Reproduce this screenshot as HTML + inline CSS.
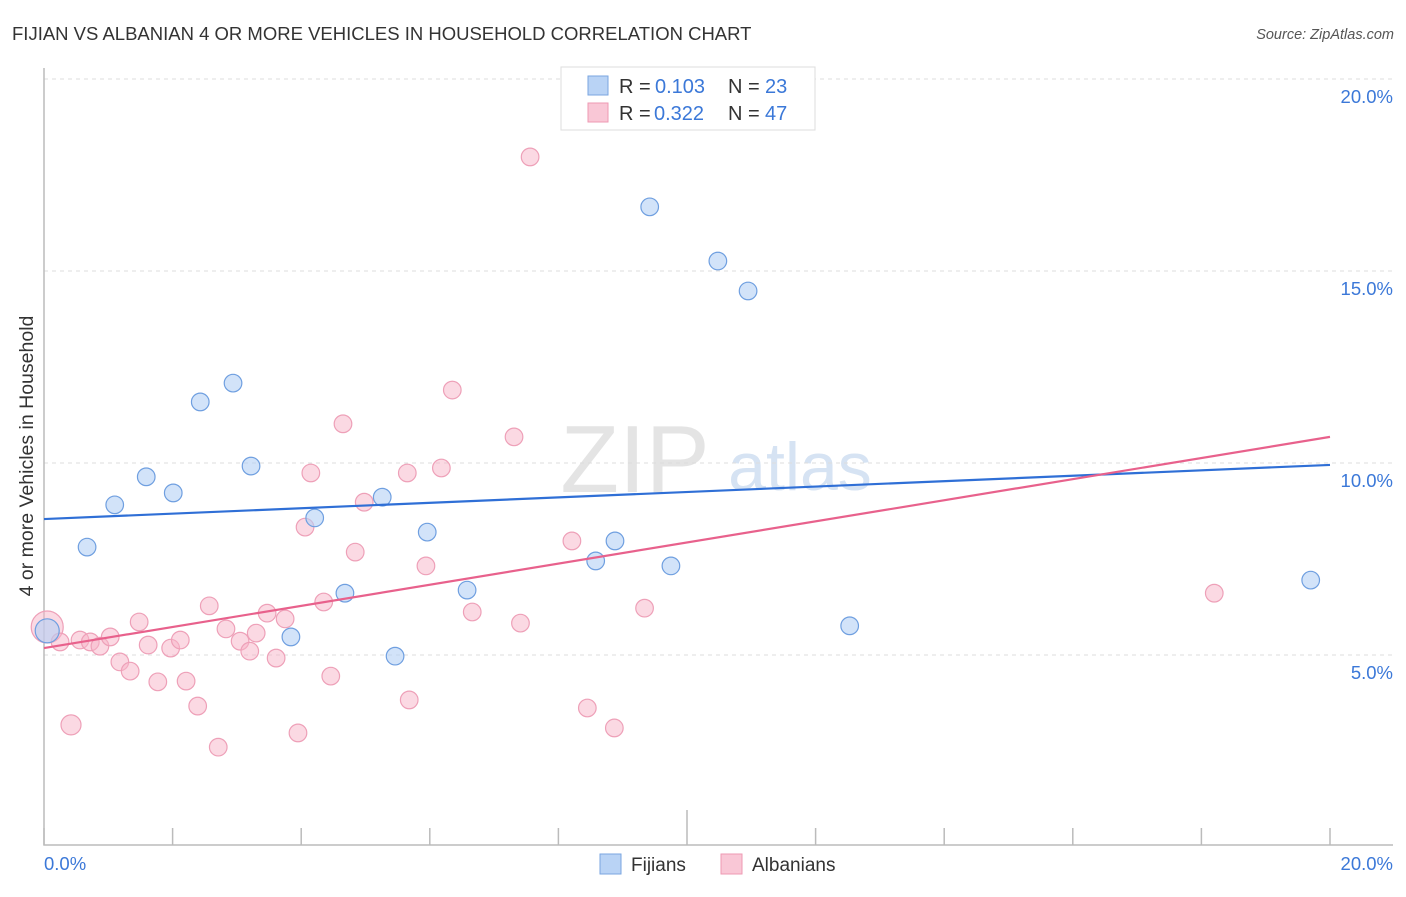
<!DOCTYPE html>
<html><head><meta charset="utf-8"><style>
body{margin:0;background:#fff;font-family:"Liberation Sans",sans-serif}
svg text{font-family:"Liberation Sans",sans-serif}
</style></head><body>
<svg id="c" width="1406" height="892">
<text x="12" y="40" font-size="18.5" fill="#333">FIJIAN VS ALBANIAN 4 OR MORE VEHICLES IN HOUSEHOLD CORRELATION CHART</text>
<text x="1394" y="39" font-size="14.5" fill="#555" font-style="italic" text-anchor="end">Source: ZipAtlas.com</text>
<text x="33" y="456" font-size="19.5" fill="#333" text-anchor="middle" transform="rotate(-90 33 456)">4 or more Vehicles in Household</text>
<g><text x="635" y="492" font-size="96" fill="#e4e4e4" font-family="Liberation Serif" text-anchor="middle">ZIP</text><text x="800" y="490" font-size="68" fill="#d6e3f3" text-anchor="middle">atlas</text></g>
<g id="grid"></g><g id="marks"></g>
<g>
<rect x="561" y="67" width="254" height="63" fill="#fff" stroke="#ddd"/>
<rect x="588" y="76" width="20" height="19" fill="#b9d3f5" stroke="#7aa6e0"/>
<rect x="588" y="103" width="20" height="19" fill="#f9c7d6" stroke="#ee9ab3"/>
<text y="93" font-size="20" fill="#333"><tspan x="619">R =</tspan><tspan x="655" fill="#3b78d8">0.103</tspan><tspan x="728">N =</tspan><tspan x="765" fill="#3b78d8">23</tspan></text>
<text y="120" font-size="20" fill="#333"><tspan x="619">R =</tspan><tspan x="654" fill="#3b78d8">0.322</tspan><tspan x="728">N =</tspan><tspan x="765" fill="#3b78d8">47</tspan></text>
</g>
<g>
<rect x="600" y="854" width="21" height="20" fill="#b9d3f5" stroke="#7aa6e0"/>
<text x="631" y="871" font-size="19" fill="#333">Fijians</text>
<rect x="721" y="854" width="21" height="20" fill="#f9c7d6" stroke="#ee9ab3"/>
<text x="752" y="871" font-size="19" fill="#333">Albanians</text>
</g>
</svg>
<script>
const fijX=[0.05,0.67,1.10,1.59,2.01,2.43,2.94,3.22,3.84,4.21,4.68,5.26,5.46,5.96,6.58,8.58,8.88,9.42,9.75,10.48,10.95,12.53,19.70];
const fijY=[5.63,7.81,8.91,9.64,9.22,11.59,12.08,9.92,5.47,8.57,6.61,9.11,4.97,8.20,6.69,7.45,7.97,16.67,7.32,15.26,14.48,5.76,6.95];
const albX=[0.05,0.25,0.42,0.56,0.72,0.87,1.03,1.18,1.34,1.48,1.62,1.77,1.97,2.12,2.21,2.39,2.57,2.71,2.83,3.05,3.20,3.30,3.47,3.61,3.75,3.95,4.06,4.15,4.35,4.46,4.65,4.84,4.98,5.65,5.68,5.94,6.18,6.35,6.66,7.31,7.41,7.56,8.21,8.45,8.87,9.34,18.20];
const albY=[5.73,5.34,3.18,5.39,5.34,5.23,5.47,4.82,4.58,5.86,5.26,4.30,5.18,5.39,4.32,3.67,6.28,2.60,5.68,5.36,5.10,5.57,6.09,4.92,5.94,2.97,8.33,9.74,6.38,4.45,11.02,7.68,8.98,9.74,3.83,7.32,9.87,11.90,6.12,10.68,5.83,17.97,7.97,3.62,3.10,6.22,6.61];
const fijTrend=[8.54,9.95];
const albTrend=[5.18,10.68];
const yTicks=[5,10,15,20];
const xLabels=["0.0%","20.0%"];
const NS="http://www.w3.org/2000/svg";
const sx=v=>44+v/20*1286, sy=v=>847-v*38.4;
function mk(p,t,a){const e=document.createElementNS(NS,t);for(const k in a)e.setAttribute(k,a[k]);p.appendChild(e);return e;}
const grid=document.getElementById('grid'),marks=document.getElementById('marks');
yTicks.forEach(v=>{
 const l=mk(grid,'line',{x1:44,x2:1393,y1:sy(v),y2:sy(v),stroke:'#ddd','stroke-dasharray':'4,4'});
 
 
 const t=mk(grid,'text',{x:1393,y:sy(v)+24,'font-size':18.5,fill:'#3b78d8','text-anchor':'end'});t.textContent=v.toFixed(1)+'%';
 
 
});
const ax=mk(grid,'path',{d:'M44 68V845H1393',fill:'none',stroke:'#bbb','stroke-width':1.5});


for(let i=0;i<=10;i++){const x=sx(i*2);const tk=mk(grid,'line',{x1:x,x2:x,y1:i==5?810:828,y2:845,stroke:'#bbb','stroke-width':1.5});
 
 }
const xl0=mk(grid,'text',{x:44,y:870,'font-size':18.5,fill:'#3b78d8'});xl0.textContent=xLabels[0];


const xl1=mk(grid,'text',{x:1393,y:870,'font-size':18.5,fill:'#3b78d8','text-anchor':'end'});xl1.textContent=xLabels[1];


albX.forEach((x,i)=>{const r=i==0?16:(i==2?10:8.8);
 const c=mk(marks,'circle',{cx:sx(x),cy:sy(albY[i]),r:r,fill:'rgba(247,180,200,0.5)',stroke:'#eea0b8','stroke-width':1.2});
 
 });
fijX.forEach((x,i)=>{const c=mk(marks,'circle',{cx:sx(x),cy:sy(fijY[i]),r:i==0?12:8.8,fill:'rgba(180,208,245,0.6)',stroke:'#6f9fe0','stroke-width':1.2});
 
 });
const lf=mk(marks,'line',{x1:sx(0),x2:sx(20),y1:sy(fijTrend[0]),y2:sy(fijTrend[1]),stroke:'#2f6fd6','stroke-width':2.2});


const la=mk(marks,'line',{x1:sx(0),x2:sx(20),y1:sy(albTrend[0]),y2:sy(albTrend[1]),stroke:'#e8618c','stroke-width':2.2});


</script>
</body></html>
